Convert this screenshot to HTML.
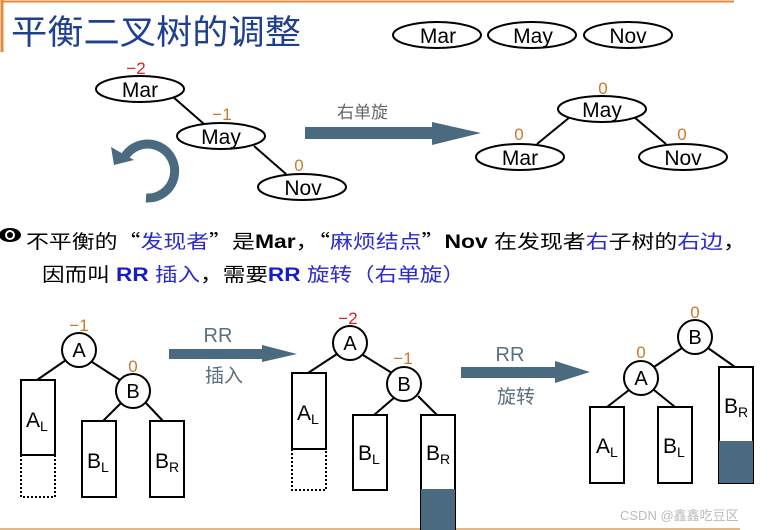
<!DOCTYPE html>
<html><head><meta charset="utf-8"><style>
html,body{margin:0;padding:0;background:#fff;}
svg{display:block;}
text{font-family:"Liberation Sans","Noto Sans CJK SC",sans-serif;}
.cjk{font-family:"Noto Sans CJK SC",sans-serif;}
</style></head><body>
<svg width="770" height="530" viewBox="0 0 770 530" xmlns="http://www.w3.org/2000/svg">
<rect width="770" height="530" fill="#fff"/>
<line x1="2" y1="1.5" x2="734" y2="1.5" stroke="#e8883a" stroke-width="2"/>
<line x1="2" y1="0" x2="2" y2="52" stroke="#e8883a" stroke-width="3"/>
<line x1="0" y1="529" x2="740" y2="529" stroke="#e0b88a" stroke-width="2"/>
<text x="11" y="44" font-size="34" fill="#1f3f8f" textLength="290" lengthAdjust="spacingAndGlyphs">平衡二叉树的调整</text>

<g fill="#fff" stroke="#000" stroke-width="2">
<ellipse cx="437" cy="35" rx="44" ry="13"/>
<ellipse cx="532" cy="35" rx="44" ry="13"/>
<ellipse cx="628" cy="35" rx="44" ry="13"/>
</g>
<g font-size="21" fill="#000" text-anchor="middle">
<text x="438" y="43">Mar</text><text x="533" y="43">May</text><text x="628" y="43">Nov</text>
</g>

<g stroke="#000" stroke-width="2">
<line x1="172" y1="96" x2="204" y2="124"/>
<line x1="254" y1="146" x2="286" y2="174"/>
<line x1="570" y1="117" x2="537" y2="144"/>
<line x1="634" y1="117" x2="666" y2="144"/>
</g>
<g fill="#fff" stroke="#000" stroke-width="2">
<ellipse cx="140" cy="89" rx="44" ry="13"/>
<ellipse cx="221" cy="136" rx="44" ry="13"/>
<ellipse cx="302" cy="187" rx="44" ry="13"/>
<ellipse cx="602" cy="109" rx="44" ry="13"/>
<ellipse cx="520" cy="157" rx="44" ry="13"/>
<ellipse cx="683" cy="157" rx="44" ry="13"/>
</g>
<g font-size="21" fill="#000" text-anchor="middle">
<text x="140" y="97">Mar</text><text x="221" y="144">May</text><text x="303" y="195">Nov</text>
<text x="602" y="117">May</text><text x="520" y="165">Mar</text><text x="683" y="165">Nov</text>
</g>
<g font-size="17" text-anchor="middle">
<text x="136" y="74" fill="#e02020">−2</text>
<text x="222" y="120" fill="#c87a2a">−1</text>
<text x="299" y="171" fill="#c87a2a">0</text>
<text x="603" y="94" fill="#c87a2a">0</text>
<text x="519" y="140" fill="#c87a2a">0</text>
<text x="682" y="140" fill="#c87a2a">0</text>
</g>
<text x="337" y="118" font-size="17" fill="#666">右单旋</text>
<polygon points="305,127 432,127 432,122 481,133 432,145 432,139 305,139" fill="#4a6a80"/>
<path d="M146,198 A27,27 0 1 0 124,158" fill="none" stroke="#4a6a80" stroke-width="9"/>
<polygon points="111,147 114,165 134,160" fill="#4a6a80"/>

<ellipse cx="10" cy="235" rx="11" ry="7" fill="#000"/>
<ellipse cx="10" cy="235" rx="5" ry="5" fill="#fff"/>
<circle cx="10" cy="235" r="3" fill="#000"/>
<text x="26" y="248" font-size="19" fill="#000" textLength="720" lengthAdjust="spacingAndGlyphs">不平衡的<tspan class="cjk">“</tspan><tspan fill="#2a2ad0">发现者</tspan><tspan class="cjk">”</tspan>是<tspan font-weight="bold">Mar</tspan>，<tspan class="cjk">“</tspan><tspan fill="#2a2ad0">麻烦结点</tspan><tspan class="cjk">”</tspan><tspan font-weight="bold">Nov</tspan> 在发现者<tspan fill="#2a2ad0">右</tspan>子树的<tspan fill="#2a2ad0">右边</tspan>，</text>
<text x="42" y="281" font-size="19" fill="#000" textLength="423" lengthAdjust="spacingAndGlyphs">因而叫 <tspan fill="#1a1acc" font-weight="bold">RR</tspan> <tspan fill="#2a2ad0">插入</tspan>，需要<tspan fill="#1a1acc" font-weight="bold">RR</tspan> <tspan fill="#2a2ad0">旋转（右单旋）</tspan></text>

<g stroke="#000" stroke-width="2">
<line x1="66" y1="360" x2="37" y2="380"/><line x1="92" y1="362" x2="120" y2="380"/>
<line x1="122" y1="402" x2="103" y2="421"/><line x1="145" y1="402" x2="163" y2="421"/>
<line x1="337" y1="354" x2="308" y2="373"/><line x1="363" y1="355" x2="392" y2="373"/>
<line x1="395" y1="397" x2="374" y2="415"/><line x1="418" y1="396" x2="437" y2="415"/>
<line x1="682" y1="348" x2="654" y2="367"/><line x1="708" y1="348" x2="735" y2="367"/>
<line x1="629" y1="390" x2="607" y2="407"/><line x1="654" y1="390" x2="675" y2="407"/>
</g>
<g fill="#fff" stroke="#000" stroke-width="2">
<rect x="21" y="380" width="34" height="75"/>
<rect x="82" y="421" width="34" height="76"/>
<rect x="150" y="421" width="34" height="76"/>
<rect x="292" y="373" width="34" height="76"/>
<rect x="353" y="415" width="34" height="75"/>
<rect x="421" y="415" width="34" height="115"/>
<rect x="590" y="407" width="34" height="76"/>
<rect x="658" y="407" width="34" height="76"/>
<rect x="719" y="367" width="34" height="116"/>
<circle cx="79" cy="350" r="17"/><circle cx="133" cy="391" r="17"/>
<circle cx="350" cy="343" r="17"/><circle cx="404" cy="384" r="17"/>
<circle cx="695" cy="337" r="17"/><circle cx="641" cy="378" r="17"/>
</g>
<g fill="none" stroke="#000" stroke-width="2" stroke-dasharray="2,2">
<path d="M21,455 V497 H55 V455"/><path d="M292,449 V490 H326 V449"/>
</g>
<rect x="421" y="489" width="34" height="41" fill="#4a6a80"/>
<rect x="719" y="441" width="34" height="42" fill="#4a6a80"/>
<g font-size="20" fill="#000" text-anchor="middle">
<text x="79" y="357">A</text><text x="133" y="398">B</text>
<text x="350" y="350">A</text><text x="404" y="391">B</text>
<text x="695" y="344">B</text><text x="641" y="385">A</text>
</g>
<g font-size="21" fill="#000">
<text x="26" y="427">A<tspan font-size="14" dy="4">L</tspan></text>
<text x="87" y="468">B<tspan font-size="14" dy="4">L</tspan></text>
<text x="155" y="468">B<tspan font-size="14" dy="4">R</tspan></text>
<text x="297" y="420">A<tspan font-size="14" dy="4">L</tspan></text>
<text x="358" y="460">B<tspan font-size="14" dy="4">L</tspan></text>
<text x="426" y="460">B<tspan font-size="14" dy="4">R</tspan></text>
<text x="596" y="453">A<tspan font-size="14" dy="4">L</tspan></text>
<text x="663" y="453">B<tspan font-size="14" dy="4">L</tspan></text>
<text x="724" y="413">B<tspan font-size="14" dy="4">R</tspan></text>
</g>
<g font-size="17" text-anchor="middle">
<text x="79" y="331" fill="#c87a2a">−1</text>
<text x="133" y="372" fill="#c87a2a">0</text>
<text x="348" y="324" fill="#e02020">−2</text>
<text x="403" y="364" fill="#c87a2a">−1</text>
<text x="695" y="318" fill="#c87a2a">0</text>
<text x="641" y="358" fill="#c87a2a">0</text>
</g>
<polygon points="169,349 262,349 262,345 297,354 262,362 262,359 169,359" fill="#4a6a80"/>
<polygon points="461,367 555,367 555,361 590,372 555,383 555,378 461,378" fill="#4a6a80"/>
<g fill="#5a7080" text-anchor="middle">
<text x="218" y="342" font-size="20">RR</text>
<text x="224" y="382" font-size="19">插入</text>
<text x="510" y="361" font-size="20">RR</text>
<text x="516" y="403" font-size="19">旋转</text>
</g>
<text x="620" y="520" font-size="13" fill="#bbb">CSDN @鑫鑫吃豆区</text>
</svg>
</body></html>
